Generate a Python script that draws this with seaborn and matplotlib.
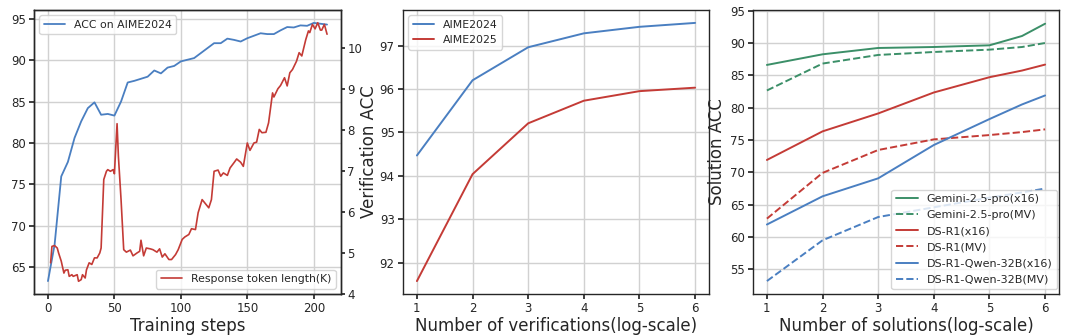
import numpy as np
import pandas as pd
import matplotlib
matplotlib.use("Agg")
import matplotlib.pyplot as plt
import seaborn as sns

# ---------------- data ----------------
# Panel 1: ACC on AIME2024 vs training steps (every 5 steps)
acc_steps = list(range(0, 211, 5))
acc_values = [63.3, 67.7, 75.95, 77.7, 80.6, 82.6, 84.2, 84.9, 83.4, 83.5,
              83.3, 85.0, 87.3, 87.5, 87.75, 88.0, 88.75, 88.4, 89.1, 89.3,
              89.85, 90.05, 90.25, 90.85, 91.45, 92.05, 92.05, 92.6, 92.45, 92.25,
              92.65, 92.95, 93.25, 93.15, 93.15, 93.6, 94.0, 93.95, 94.2, 94.15,
              94.5, 94.4, 94.3]

# Response token length (K)
len_steps = [2, 3, 5, 7, 8, 10, 12, 13, 15, 16, 18, 19, 22, 23, 25, 26, 28, 29,
             31, 33, 35, 37, 39, 40, 42, 44, 45, 47, 49, 50, 52, 53, 55, 57, 59,
             62, 64, 67, 69, 70, 72, 74, 77, 79, 82, 84, 86, 88, 91, 93, 96, 98,
             101, 103, 106, 108, 111, 113, 116, 118, 121, 123, 125, 128, 130, 132,
             135, 137, 140, 142, 145, 147, 150, 152, 155, 157, 159, 161, 164, 166,
             169, 170, 173, 175, 178, 180, 182, 184, 187, 189, 191, 194, 196, 197,
             199, 201, 203, 205, 206, 208, 210]
len_values = [4.76, 5.16, 5.18, 5.12, 5.00, 4.80, 4.51, 4.58, 4.59, 4.43, 4.47,
              4.43, 4.47, 4.31, 4.35, 4.47, 4.39, 4.59, 4.76, 4.72, 4.88, 4.88,
              5.00, 5.12, 6.79, 6.99, 7.03, 6.99, 7.03, 6.93, 8.15, 7.36, 6.30,
              5.08, 5.02, 5.07, 4.93, 5.00, 5.04, 5.31, 4.93, 5.12, 5.10, 5.08,
              5.02, 5.10, 4.90, 4.98, 4.84, 4.84, 4.96, 5.08, 5.33, 5.39, 5.45,
              5.59, 5.57, 5.98, 6.30, 6.22, 6.10, 6.30, 6.99, 7.02, 6.87, 6.95,
              6.89, 7.07, 7.20, 7.29, 7.21, 7.11, 7.68, 7.50, 7.68, 7.70, 8.01,
              7.93, 7.94, 8.17, 8.90, 8.80, 9.00, 9.08, 9.27, 9.07, 9.39, 9.47,
              9.67, 9.88, 9.80, 10.20, 10.41, 10.37, 10.57, 10.46, 10.61, 10.43,
              10.43, 10.57, 10.33]

# Panel 2: verification ACC
ver_x = [1, 2, 3, 4, 5, 6]
ver_aime2024 = [94.47, 96.20, 96.96, 97.28, 97.43, 97.52]
ver_aime2025 = [91.58, 94.04, 95.21, 95.73, 95.95, 96.03]

# Panel 3: solution ACC  (x = log2 of number of solutions)
sol_x = [1, 2, 3, 4, 5, 5.585, 6]
gemini_x16 = [86.61, 88.25, 89.23, 89.38, 89.64, 91.08, 92.98]
gemini_mv = [82.66, 86.82, 88.15, 88.61, 88.97, 89.38, 90.00]
dsr1_x16 = [71.92, 76.34, 79.11, 82.35, 84.71, 85.74, 86.66]
dsr1_mv = [62.85, 69.92, 73.46, 75.10, 75.77, 76.23, 76.65]
qwen_x16 = [61.94, 66.30, 69.08, 74.23, 78.24, 80.50, 81.89]
qwen_mv = [53.20, 59.50, 63.10, 64.60, 66.10, 66.90, 67.50]

sol_labels = ["Gemini-2.5-pro(x16)", "Gemini-2.5-pro(MV)", "DS-R1(x16)",
              "DS-R1(MV)", "DS-R1-Qwen-32B(x16)", "DS-R1-Qwen-32B(MV)"]

# ---------------- style ----------------
sns.set_theme(style="whitegrid", rc={
    "axes.edgecolor": "0.15",
    "axes.linewidth": 1.0,
    "grid.color": "0.82",
    "grid.linewidth": 1.0,
    "xtick.bottom": True,
    "ytick.left": True,
    "xtick.color": "0.15",
    "ytick.color": "0.15",
    "xtick.major.size": 3.5,
    "ytick.major.size": 3.5,
    "xtick.major.pad": 2.5,
    "ytick.major.pad": 2.5,
    "xtick.labelsize": 8.5,
    "ytick.labelsize": 8.5,
    "legend.fontsize": 7.8,
    "axes.labelsize": 12,
})
plt.rcParams["font.family"] = ["DejaVu Sans"]

BLUE = "#4a7fc1"
RED = "#c43b36"
GREEN = "#3b8f68"

fig = plt.figure(figsize=(10.8, 3.36), dpi=100)
W, H = 1080, 336

def add_ax(l, r, t, b):
    return fig.add_axes([l / W, 1 - b / H, (r - l) / W, (b - t) / H])

ax1 = add_ax(34, 341, 10, 294)
ax2 = add_ax(403, 709, 10, 294)
ax3 = add_ax(753, 1059, 10, 294)

# ---- panel 1 ----
sns.lineplot(x=acc_steps, y=acc_values, ax=ax1, color=BLUE, linewidth=1.3,
             label="ACC on AIME2024")
ax1.set_xlabel("Training steps", labelpad=1)
ax1.set_ylabel("")
ax1.set_yticks([65, 70, 75, 80, 85, 90, 95])
ax1.legend(loc="upper left", frameon=True)
ax1b = ax1.twinx()
sns.lineplot(x=len_steps, y=len_values, ax=ax1b, color=RED, linewidth=1.2,
             label="Response token length(K)")
ax1b.grid(False)
ax1b.set_ylabel("")
ax1b.set_ylim(4.0, 10.92)
ax1b.set_yticks([4, 5, 6, 7, 8, 9, 10])
ax1b.tick_params(axis="y", right=True, length=3, pad=1.5, labelsize=8.5, colors="0.15")
ax1b.legend(loc="lower right", frameon=True)
for s in ax1b.spines.values():
    s.set_color("0.15")

# ---- panel 2 ----
sns.lineplot(x=ver_x, y=ver_aime2024, ax=ax2, color=BLUE, linewidth=1.4, label="AIME2024")
sns.lineplot(x=ver_x, y=ver_aime2025, ax=ax2, color=RED, linewidth=1.4, label="AIME2025")
ax2.set_xlabel("Number of verifications(log-scale)", labelpad=1)
ax2.set_ylabel("Verification ACC", labelpad=1)
ax2.set_xticks(ver_x)
ax2.legend(loc="upper left")

# ---- panel 3 ----
series = [gemini_x16, gemini_mv, dsr1_x16, dsr1_mv, qwen_x16, qwen_mv]
colors = [GREEN, GREEN, RED, RED, BLUE, BLUE]
styles = ["-", "--", "-", "--", "-", "--"]
for vals, lab, c, ls in zip(series, sol_labels, colors, styles):
    sns.lineplot(x=sol_x, y=vals, ax=ax3, color=c, linestyle=ls, linewidth=1.4, label=lab)
ax3.set_xlabel("Number of solutions(log-scale)", labelpad=1)
ax3.set_ylabel("Solution ACC", labelpad=3)
ax3.set_xticks([1, 2, 3, 4, 5, 6])
ax3.set_ylim(51.2, 95.1)
ax3.set_yticks([55, 60, 65, 70, 75, 80, 85, 90, 95])
ax3.legend(loc="lower right", bbox_to_anchor=(1.01, 0.0), borderaxespad=0.45,
           labelspacing=0.55, fontsize=8)

for ax in (ax1, ax2, ax3):
    for s in ax.spines.values():
        s.set_color("0.15")

fig.savefig("out.png", dpi=100)
